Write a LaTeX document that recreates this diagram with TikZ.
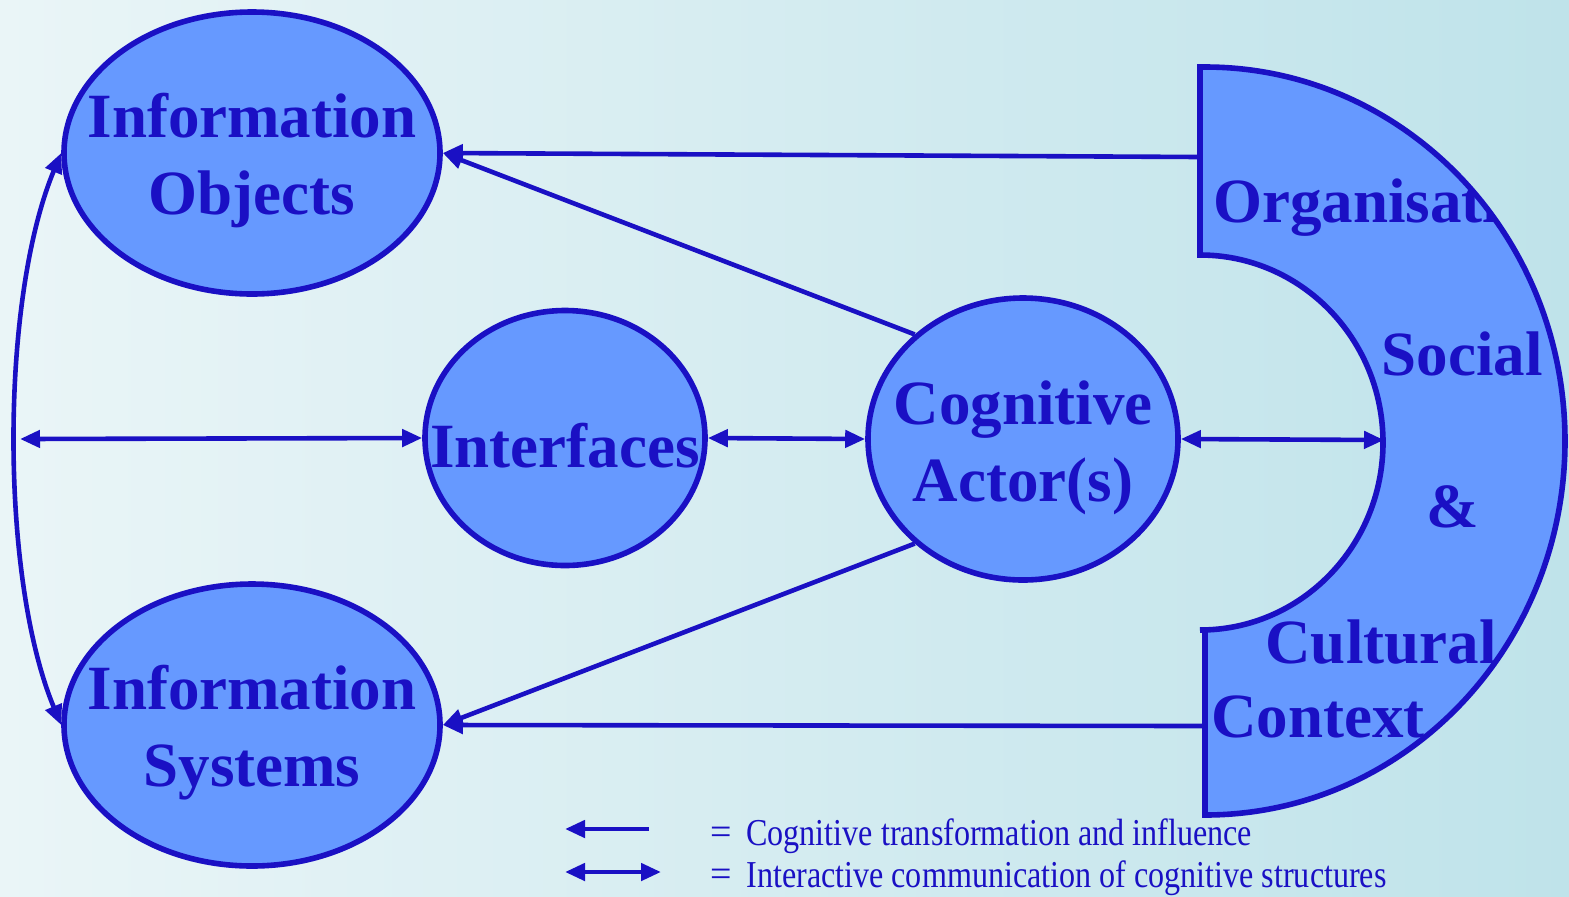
\documentclass[tikz,border=0pt]{standalone}
\usepackage{fontspec}
\setmainfont{Liberation Serif}
\usetikzlibrary{shapes.geometric,arrows.meta}
\definecolor{dblue}{HTML}{1A10C4}
\definecolor{lblue}{HTML}{6699FF}
\definecolor{bgleft}{HTML}{EAF5F7}
\definecolor{bgmid}{HTML}{E2F1F4}
\definecolor{bgright}{HTML}{BFE3EA}
\tikzset{
  blob/.style={ellipse, draw=dblue, fill=lblue, line width=2.8pt, inner sep=0pt},
  bigtxt/.style={font=\bfseries\fontsize{31.5}{38.5}\selectfont, text=dblue, align=center, inner sep=0pt},
  conn/.style={draw=dblue, line width=2.3pt},
  tip/.style={-{Triangle[length=10pt,width=8.5pt]}},
  dtip/.style={{Triangle[length=10pt,width=8.5pt]}-{Triangle[length=10pt,width=8.5pt]}},
  legtxt/.style={font=\fontsize{19}{22}\selectfont, text=dblue, anchor=west, inner sep=0pt}
}
\begin{document}
\begin{tikzpicture}[x=0.5pt,y=-0.5pt]
\useasboundingbox (0,0) rectangle (1569,896);
\shade[left color=bgleft, middle color=bgmid, right color=bgright] (0,0) rectangle (1569,896);

% context shape
\def\ctxpath{(1200,67) -- (1200,255) arc[start angle=-90, end angle=90, x radius=183, y radius=187.5] -- (1205,630) -- (1205,815) arc[start angle=90, end angle=-90, x radius=360, y radius=374] -- cycle}
\fill[lblue] \ctxpath;
\begin{scope}
\clip \ctxpath;
\node[bigtxt, anchor=west] (org) at (1213,208) {Organisational};
\end{scope}
\draw[dblue, line width=2.8pt, line join=miter] \ctxpath;
\node[bigtxt] (soc) at (1462,354) {Social};
\node[bigtxt] (amp) at (1453,507) {\&};
\node[bigtxt] (cul) at (1381,642) {Cultural};
\node[bigtxt] (cxt) at (1318,717) {Context};
\coordinate (ctop) at (1200,157);
\coordinate (cbot) at (1205,726);
\coordinate (cin) at (1384,440);

% ellipses
\node[blob, minimum width=188pt, minimum height=141pt] (io) at (252,153) {};
\node[bigtxt] (iot) at (252,161) {Information\\Objects};
\node[blob, minimum width=140pt, minimum height=127.5pt] (if) at (565,438) {};
\node[bigtxt] (ift) at (565,446) {Interfaces};
\node[blob, minimum width=155pt, minimum height=141pt] (ca) at (1023,439) {};
\node[bigtxt] (cat) at (1023,448) {Cognitive\\Actor(s)};
\node[blob, minimum width=188pt, minimum height=141pt] (is) at (252,725) {};
\node[bigtxt] (ist) at (252,733) {Information\\Systems};

% connectors
\draw[conn, tip] (ctop) -- (io.east);
\draw[conn, tip] (ca.136) -- (io.east);
\draw[conn, tip] (cbot) -- (is.east);
\draw[conn, tip] (ca.224) -- (is.east);
\draw[conn, dtip] (if.east) -- (ca.west);
\draw[conn, dtip] (ca.east) -- (cin);
\draw[conn, dtip] (io.west) .. controls (0,300) and (0,578) .. (is.west);
\coordinate (lc) at (20,439);
\draw[conn, dtip] (lc) -- (if.west);

% legend
\coordinate (l1a) at (565,829);
\coordinate (l1b) at (649,829);
\coordinate (l2a) at (565,872);
\coordinate (l2b) at (661,872);
\draw[conn, tip] (l1b) -- (l1a);
\draw[conn, dtip] (l2a) -- (l2b);
\node[legtxt] (e1) at (710,836) {=};
\node[legtxt] (e2) at (710,878) {=};
\node[legtxt] (t1) at (746,836) {\scalebox{0.845}[1]{Cognitive transformation and influence}};
\node[legtxt] (t2) at (746,878) {\scalebox{0.845}[1]{Interactive communication of cognitive structures}};
\end{tikzpicture}
\end{document}
